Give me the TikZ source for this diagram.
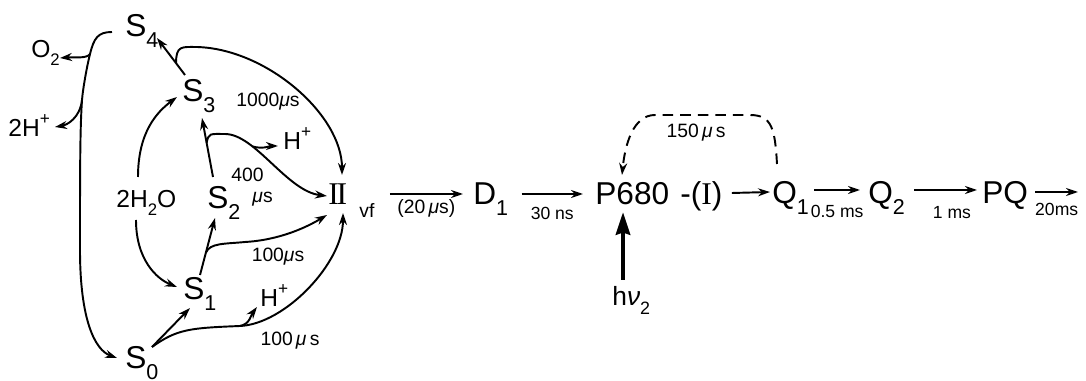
\documentclass[tikz,border=0pt]{standalone}
\usepackage{fontspec}
\setmainfont{Liberation Sans}
\newfontfamily\romfont{Liberation Serif}
\usetikzlibrary{arrows.meta}
\newcommand\dn[1]{\raisebox{-0.32em}{\scalebox{0.68}{#1}}}
\newcommand\up[1]{\raisebox{0.5em}{\scalebox{0.7}{#1}}}

\begin{document}
\begin{tikzpicture}[x=0.02cm,y=-0.02cm,
  state/.style={anchor=base west,inner sep=0pt,font=\fontsize{18}{18}\selectfont},
  ion/.style={anchor=base west,inner sep=0pt,font=\fontsize{14}{14}\selectfont},
  rate/.style={inner sep=0pt,font=\fontsize{11}{11}\selectfont},
  small/.style={inner sep=0pt,font=\fontsize{10}{10}\selectfont},
  arr/.style={line width=1.1pt,-{Stealth[length=0.24cm,width=0.16cm]}}]
\useasboundingbox (0,0) rectangle (1086,381);

\node[state] (s4) at (125,37) {S\dn{4}};
\node[state] (s3) at (182,102) {S\dn{3}};
\node[state] (s2) at (207,209) {S\dn{2}};
\node[state] (s1) at (183,300) {S\dn{1}};
\node[state] (s0) at (125,369) {S\dn{0}};
\node[state] (ii) at (328,205) {{\romfont I\kern-1.3pt I}\hspace{7pt}\raisebox{-7pt}{\fontsize{11}{11}\selectfont vf}};
\node[ion] (o2) at (31,58) {O\dn{2}};
\node[ion] (hh) at (8,137) {2H\up{+}};
\node[ion] (water) at (116,208) {2H\dn{2}O};
\node[ion] (hup) at (283,150) {H\up{+}};
\node[ion] (hlo) at (260,307) {H\up{+}};
\node[rate] (t1000) at (268,102) {1000\textit{μ}s};
\node[rate,align=left,anchor=north west,font=\fontsize{11}{12}\selectfont] (t400) at (231,168) {400\\\hspace*{12pt}\textit{μ}s};
\node[rate] (t100a) at (278,257) {100\textit{μ}s};
\node[rate] (t100b) at (290,341) {100\,\textit{μ}\,s};

\node[state] (d1) at (473,205) {D\dn{1}};
\node[state] (p680) at (595,205) {P680};
\node[state] (inter) at (680,205) {-({\romfont I})};
\node[state] (q1) at (772,204) {Q\dn{1}};
\node[state] (q2) at (868,204) {Q\dn{2}};
\node[state] (pq) at (982,204) {PQ};
\node[ion,font=\fontsize{15}{15}\selectfont] (hnu) at (612,306) {h\textit{ν}\dn{2}};
\node[rate] (t150) at (696,133) {150\,\textit{μ}\,s};
\coordinate (out) at (1078,192);

% S-state cycle
\draw[arr] ([shift={(-13,-5)}]s4.base west) .. controls +(-14,0) and +(4,-16) .. (90,54) coordinate (jo)
  .. controls +(-3,12) and +(1,-12) .. (82,100) coordinate (jh)
  .. controls +(-2,30) and +(0,-80) .. (80,250)
  .. controls +(0,70) and +(-22,-8) .. ([shift={(-8,-11)}]s0.base west);
\draw[arr] (jo) .. controls +(-3,5) and +(12,-1) .. ([shift={(29,0)}]o2.base west);
\draw[arr] (jh) .. controls +(-2,18) and +(12,-2) .. ([shift={(47,-10)}]hh.base west);

\draw[arr] ([shift={(3,-27)}]s3.base west) -- coordinate[pos=0.32] (j3) ([shift={(32,1)}]s4.base west);
\draw[arr] (j3) .. controls +(0,-18) and +(-15,0) .. (197,47)
  .. controls +(70,2) and +(0,-60) .. ([shift={(14,-30)}]ii.base west);

\draw[arr] ([shift={(6,-32)}]s2.base west) -- coordinate[pos=0.58] (j2) ([shift={(20,16)}]s3.base west);
\draw[arr] (j2) .. controls +(2,-10) and +(-15,0) .. (225,134)
  .. controls +(30,0) and +(-40,-5) .. coordinate[pos=0.3] (jb) ([shift={(-1,-9)}]ii.base west);
\draw[arr] (jb) .. controls +(10,3) and +(-8,0) .. ([shift={(-5,-4)}]hup.base west);

\draw[arr] ([shift={(17,-25)}]s1.base west) -- coordinate[pos=0.39] (j1) ([shift={(8,9)}]s2.base west);
\draw[arr] (j1) .. controls +(4,-10) and +(-20,2) .. (245,242)
  .. controls +(35,-2) and +(-20,12) .. ([shift={(-1,10)}]ii.base west);

\draw[arr] ([shift={(27,-22)}]s0.base west) -- ([shift={(7,8)}]s1.base west);
\draw[arr] ([shift={(27,-22)}]s0.base west) .. controls +(25,-18) and +(-50,2) .. (240,326) coordinate (j0)
  .. controls +(45,-2) and +(0,50) .. ([shift={(15,8)}]ii.base west);
\draw[arr] (j0) .. controls +(10,-2) and +(-6,8) .. ([shift={(-3,0)}]hlo.base west);

\draw[arr] ([shift={(22,-31)}]water.base west) .. controls +(0,-45) and +(-20,15) .. ([shift={(-5,-5)}]s3.base west);
\draw[arr] ([shift={(20,12)}]water.base west) .. controls +(0,40) and +(-20,-8) .. ([shift={(-6,-13)}]s1.base west);

% electron transfer chain
\draw[arr] ([shift={(15,-11)}]ii.base east) -- node[rate,below=2.5pt] (t20) {(20\,\textit{μ}s)} ([shift={(-10,-11)}]d1.base west);
\draw[arr] ([shift={(13,-11)}]d1.base east) -- node[small,below=7pt] (t30) {30 ns} ([shift={(-12,-11)}]p680.base west);
\draw[arr] ([shift={(9,-12)}]inter.base east) -- ([shift={(-2,-12)}]q1.base west);
\draw[arr] ([shift={(5,-14)}]q1.base east) -- node[small,below=8pt] (t05) {0.5 ms} ([shift={(-8,-14)}]q2.base west);
\draw[arr] ([shift={(9,-14)}]q2.base east) -- node[small,below=9pt,pos=0.6] (t1) {1 ms} ([shift={(-5,-14)}]pq.base west);
\draw[arr] ([shift={(7,-12)}]pq.base east) -- node[small,below=6pt] (t20ms) {20ms} (out);

\draw[arr,dash pattern=on 6pt off 4pt] ([shift={(5,-40)}]q1.base west) .. controls +(-2,-35) and +(22,0) .. (750,115)
  -- (655,115) .. controls +(-22,0) and +(3,-30) .. ([shift={(27,-30)}]p680.base west);
\draw[line width=2.6pt,-{Stealth[length=0.45cm,width=0.28cm,inset=0.04cm]}] ([shift={(11,-26)}]hnu.base west) -- ([shift={(28,7)}]p680.base west);
\end{tikzpicture}
\end{document}
